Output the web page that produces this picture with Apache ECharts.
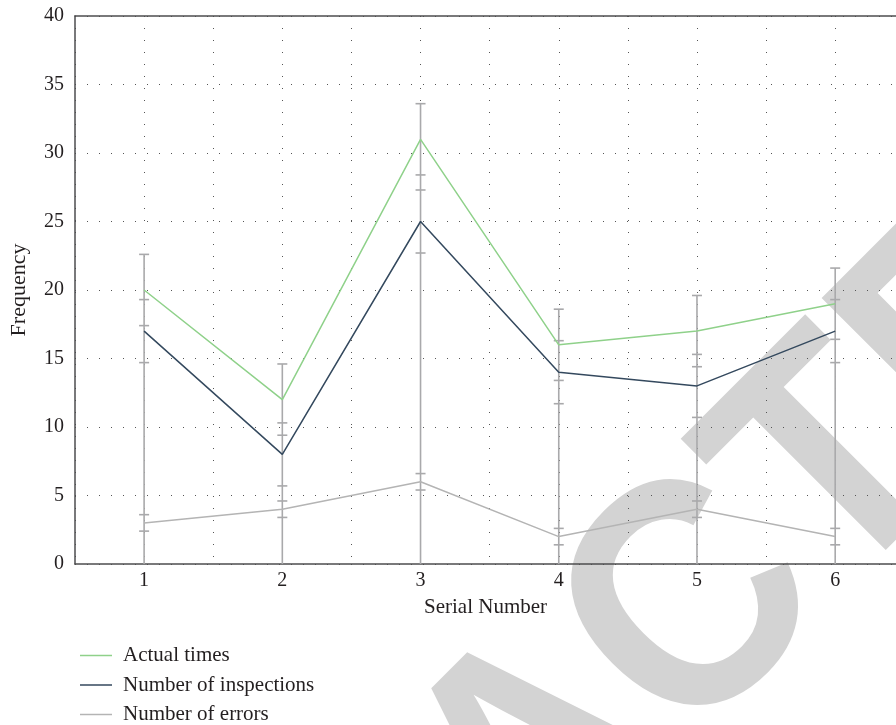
<!DOCTYPE html>
<html>
<head>
<meta charset="utf-8">
<script src="https://cdn.jsdelivr.net/npm/echarts@6/dist/echarts.min.js"></script>
<style>html,body{margin:0;padding:0;background:#fff}#main{width:896px;height:725px}</style>
</head>
<body>
<div id="main"></div>
<script>
const serialNumbers = [1, 2, 3, 4, 5, 6];
const actualTimes = [20, 12, 31, 16, 17, 19];
const inspections = [17, 8, 25, 14, 13, 17];
const errorsCount = [3, 4, 6, 2, 4, 2];
const actualErr = [2.6, 2.6, 2.6, 2.6, 2.6, 2.6];
const inspectionsErr = [2.3, 2.3, 2.3, 2.3, 2.3, 2.3];
const errorsErr = [0.6, 0.6, 0.6, 0.6, 0.6, 0.6];
const yTicks = [0, 5, 10, 15, 20, 25, 30, 35, 40];
const seriesNames = ['Actual times', 'Number of inspections', 'Number of errors'];

const FONT = '"Liberation Serif", "DejaVu Serif", serif';
const TXT = '#231f20';
const colors = ['#8fd18a', '#34495e', '#b4b4b4'];
const errColor = '#a9a9ab';
const AXIS = '#4d4d4f';

const errData = serialNumbers.map((x, i) => [
  x, actualTimes[i], actualErr[i], inspections[i], inspectionsErr[i], errorsCount[i], errorsErr[i]
]);

function renderErr(params, api) {
  const x = api.value(0);
  const pairs = [[api.value(1), api.value(2)], [api.value(3), api.value(4)], [api.value(5), api.value(6)]];
  let top = 0;
  pairs.forEach(p => { top = Math.max(top, p[0] + p[1]); });
  const base = api.coord([x, 0]);
  const topPt = api.coord([x, top]);
  const style = { stroke: errColor, lineWidth: 1.6 };
  const children = [{ type: 'line', shape: { x1: base[0], y1: base[1], x2: topPt[0], y2: topPt[1] }, style }];
  const hw = 5;
  pairs.forEach(p => {
    [p[0] + p[1], p[0] - p[1]].forEach(v => {
      const c = api.coord([x, v]);
      children.push({ type: 'line', shape: { x1: c[0] - hw, y1: c[1], x2: c[0] + hw, y2: c[1] }, style });
    });
  });
  return { type: 'group', children };
}

const lineSeries = [actualTimes, inspections, errorsCount].map((vals, k) => ({
  name: seriesNames[k],
  type: 'line',
  data: serialNumbers.map((x, i) => [x, vals[i]]),
  symbol: 'none',
  showSymbol: false,
  lineStyle: { color: colors[k], width: 1.5 },
  itemStyle: { color: colors[k] },
  z: 5 - k,
  silent: true,
  animation: false
}));

const X_MIN = 0.5, X_MAX = 6.44;

const chart = echarts.init(document.getElementById('main'), null, { renderer: 'canvas' });
chart.setOption({
  animation: false,
  backgroundColor: '#ffffff',
  grid: { left: 73, top: 16, right: 0, bottom: 161 },
  xAxis: [{
    type: 'value', min: X_MIN, max: X_MAX, interval: 0.5,
    name: 'Serial Number', nameLocation: 'middle', nameGap: 33,
    nameTextStyle: { fontFamily: FONT, fontSize: 21, color: TXT },
    axisLine: { show: true, lineStyle: { color: AXIS, width: 1.5 } },
    axisTick: { show: false },
    axisLabel: {
      fontFamily: FONT, fontSize: 20, color: TXT, margin: 7, showMinLabel: false, showMaxLabel: false,
      formatter: v => (serialNumbers.indexOf(v) >= 0 ? String(v) : '')
    },
    splitLine: { show: true, lineStyle: { color: '#555', width: 1, type: [1, 11] } }
  }, {
    type: 'value', position: 'top', min: X_MIN, max: X_MAX,
    axisLine: { show: true, lineStyle: { color: AXIS, width: 1.5 } },
    axisTick: { show: false }, axisLabel: { show: false }, splitLine: { show: false }
  }],
  yAxis: {
    type: 'value', min: yTicks[0], max: yTicks[yTicks.length - 1], interval: 5,
    name: 'Frequency', nameLocation: 'middle', nameGap: 45,
    nameTextStyle: { fontFamily: FONT, fontSize: 22, color: TXT },
    axisLine: { show: true, lineStyle: { color: AXIS, width: 1.5 } },
    axisTick: { show: false },
    axisLabel: { fontFamily: FONT, fontSize: 20, color: TXT, margin: 11 },
    splitLine: { show: true, lineStyle: { color: '#555', width: 1, type: [1, 11] } }
  },
  legend: {
    data: seriesNames,
    orient: 'vertical',
    left: 75, top: 640, height: 85,
    icon: 'rect', itemWidth: 32, itemHeight: 1.5, itemGap: 8.5,
    textStyle: { fontFamily: FONT, fontSize: 21, color: TXT, lineHeight: 20, padding: [0, 0, 0, 6] }
  },
  graphic: [{
    type: 'text', x: 544, y: 765, rotation: Math.PI / 4, scaleX: 0.92, scaleY: 1, z: -10, silent: true,
    style: { text: 'RETRACTED', font: 'bold 325px "Liberation Sans"', fill: '#d3d3d3', textAlign: 'center', textVerticalAlign: 'middle' }
  }],
  series: [
    {
      type: 'custom', name: 'errorbars', data: errData, renderItem: renderErr,
      encode: { x: 0, y: 1 }, z: 1, silent: true, animation: false
    }
  ].concat(lineSeries)
});
</script>
</body>
</html>
